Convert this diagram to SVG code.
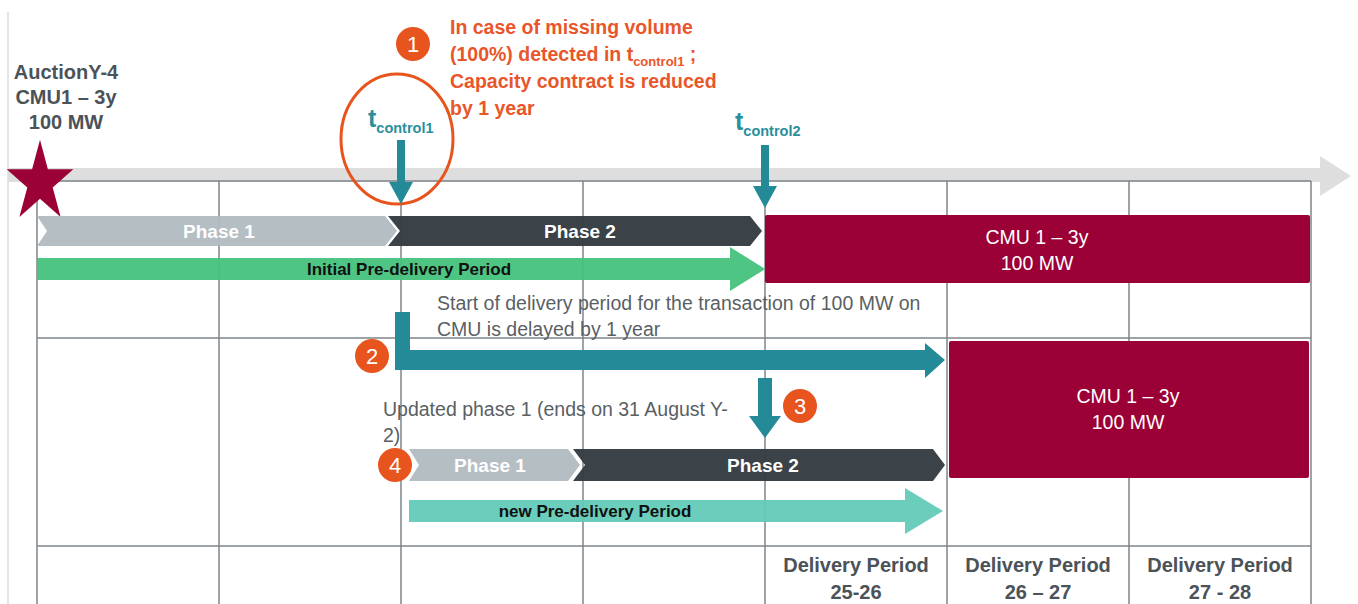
<svg xmlns="http://www.w3.org/2000/svg" width="1358" height="604" viewBox="0 0 1358 604">
<defs>
<style>
.grid{stroke:#7d848a;stroke-width:1.5;fill:none}
.t{font-family:"Liberation Sans",Arial,sans-serif}
.lbl{font-family:"Liberation Sans",Arial,sans-serif;font-weight:bold;fill:#4b5258;font-size:20px;text-anchor:middle}
.ph{font-family:"Liberation Sans",Arial,sans-serif;font-weight:bold;fill:#ffffff;font-size:19px;text-anchor:middle}
.box{fill:#9b0036}
.boxt{font-family:"Liberation Sans",Arial,sans-serif;fill:#ffffff;font-size:19.5px;text-anchor:middle}
.note{font-family:"Liberation Sans",Arial,sans-serif;fill:#5a5f64;font-size:19.5px}
.orange{font-family:"Liberation Sans",Arial,sans-serif;font-weight:bold;fill:#e8562a;font-size:19.5px}
.num{font-family:"Liberation Sans",Arial,sans-serif;fill:#ffffff;font-size:22px;text-anchor:middle}
.badge{fill:#e8541e}
.teal{fill:#248a98}
.tc{font-family:"Liberation Sans",Arial,sans-serif;fill:#2a8f9c;font-weight:bold}
.p1{fill:#b1bac0}
.p2{fill:#353c42}
</style>
</defs>
<rect width="1358" height="604" fill="#ffffff"/>
<line x1="8" y1="12" x2="8" y2="604" stroke="#dcdcdc" stroke-width="1.5"/>
<g id="timeline">
<polygon points="8,168 1320,168 1320,156 1351,176 1320,196 1320,182 8,182" fill="#dedede"/>
</g>
<g id="grid">
<line class="grid" x1="37" y1="181" x2="1311" y2="181"/>
<line class="grid" x1="37" y1="338" x2="1311" y2="338"/>
<line class="grid" x1="37" y1="546" x2="1311" y2="546"/>
<line class="grid" x1="37" y1="181" x2="37" y2="604"/>
<line class="grid" x1="219" y1="181" x2="219" y2="604"/>
<line class="grid" x1="401" y1="181" x2="401" y2="604"/>
<line class="grid" x1="583" y1="181" x2="583" y2="604"/>
<line class="grid" x1="765" y1="181" x2="765" y2="604"/>
<line class="grid" x1="947" y1="181" x2="947" y2="604"/>
<line class="grid" x1="1129" y1="181" x2="1129" y2="604"/>
<line class="grid" x1="1311" y1="181" x2="1311" y2="604"/>
</g>
<g id="auction">
<polygon transform="translate(40,182.5) scale(1,1.22)" points="0,-35 7.9,-10.8 33.3,-10.8 12.7,4.1 20.6,28.3 0,13.4 -20.6,28.3 -12.7,4.1 -33.3,-10.8 -7.9,-10.8" fill="#9b0036"/>
<text class="lbl" x="66" y="79">AuctionY-4</text>
<text class="lbl" x="66" y="104">CMU1 – 3y</text>
<text class="lbl" x="66" y="129">100 MW</text>
</g>
<g id="phase1-initial">
<polygon class="p1" points="37,216 385,216 397,231 385,246 37,246 47,231" opacity="0.95"/>
<text class="ph" x="219" y="238">Phase 1</text>
</g>
<g id="phase2-initial">
<polygon class="p2" points="388,216 750,216 762,231 750,246 388,246 400,231" opacity="0.97"/>
<text class="ph" x="580" y="238">Phase 2</text>
</g>
<g id="initial-predelivery">
<polygon points="37,258 730,258 730,247 765,269 730,291 730,280 37,280" fill="#45c27b" opacity="0.95"/>
<text class="t" x="409" y="275" font-size="17" font-weight="bold" fill="#111" text-anchor="middle">Initial Pre-delivery Period</text>
</g>
<g id="cmu-box-1">
<rect class="box" x="765" y="215" width="545" height="68" rx="2"/>
<text class="boxt" x="1037" y="244">CMU 1 – 3y</text>
<text class="boxt" x="1037" y="270">100 MW</text>
</g>
<g id="note-1">
<circle class="badge" cx="413" cy="44" r="17"/>
<text class="num" x="413" y="52">1</text>
<text class="orange" x="450" y="34">In case of missing volume</text>
<text class="orange" x="450" y="61">(100%) detected in t<tspan font-size="13" dy="5">control1</tspan><tspan dy="-5"> ;</tspan></text>
<text class="orange" x="450" y="88">Capacity contract is reduced</text>
<text class="orange" x="450" y="115">by 1 year</text>
<ellipse cx="397" cy="139" rx="56" ry="65" fill="none" stroke="#e8541e" stroke-width="3"/>
</g>
<g id="tcontrol1">
<text class="tc" x="368" y="127" font-size="25" font-weight="normal">t<tspan font-size="14.5" font-weight="bold" dy="6">control1</tspan></text>
</g>
<g id="tcontrol2">
<text class="tc" x="735" y="130" font-size="25" font-weight="normal">t<tspan font-size="14.5" font-weight="bold" dy="6">control2</tspan></text>
</g>
<g id="note-2">
<text class="note" x="437" y="310">Start of delivery period for the transaction of 100 MW on</text>
<text class="note" x="437" y="336">CMU is delayed by 1 year</text>
<circle class="badge" cx="372" cy="356" r="17"/>
<text class="num" x="372" y="364">2</text>
</g>
<g id="cmu-box-2">
<rect class="box" x="949" y="341" width="360" height="137" rx="2"/>
<text class="boxt" x="1128" y="403">CMU 1 – 3y</text>
<text class="boxt" x="1128" y="429">100 MW</text>
</g>
<g id="note-3">
<circle class="badge" cx="800" cy="406" r="17"/>
<text class="num" x="800" y="414">3</text>
</g>
<g id="note-4">
<text class="note" x="383" y="416">Updated phase 1 (ends on 31 August Y-</text>
<text class="note" x="383" y="442">2)</text>
</g>
<g id="phase1-new">
<polygon class="p1" points="409,449 568,449 580,465 568,481 409,481 419,465" opacity="0.95"/>
<text class="ph" x="490" y="472">Phase 1</text>
</g>
<g id="phase2-new">
<polygon class="p2" points="573,449 933,449 945,465 933,481 573,481 585,465" opacity="0.97"/>
<text class="ph" x="763" y="472">Phase 2</text>
</g>
<g id="badge-4">
<circle class="badge" cx="395" cy="465" r="17"/>
<text class="num" x="395" y="473">4</text>
</g>
<g id="new-predelivery">
<polygon points="409,500 905,500 905,488 943,511 905,534 905,522 409,522" fill="#63cbb8" opacity="0.95"/>
<text class="t" x="595" y="517" font-size="17" font-weight="bold" fill="#111" text-anchor="middle">new Pre-delivery Period</text>
</g>
<g id="delivery-labels">
<text class="lbl" x="856" y="572">Delivery Period</text>
<text class="lbl" x="856" y="599">25-26</text>
<text class="lbl" x="1038" y="572">Delivery Period</text>
<text class="lbl" x="1038" y="599">26 – 27</text>
<text class="lbl" x="1220" y="572">Delivery Period</text>
<text class="lbl" x="1220" y="599">27 - 28</text>
</g>
<g id="connectors">
<polygon class="teal" points="397,140 405,140 405,182 413,182 401,204 389,182 397,182"/>
<polygon class="teal" points="761,145 769,145 769,186 777,186 765,208 753,186 761,186"/>
<polygon class="teal" points="395,312 410,312 410,350 925,350 925,343 945,360 925,378 925,370 395,370"/>
<polygon class="teal" points="758,378 772,378 772,416 781,416 765,438 749,416 758,416"/>
</g>
</svg>
